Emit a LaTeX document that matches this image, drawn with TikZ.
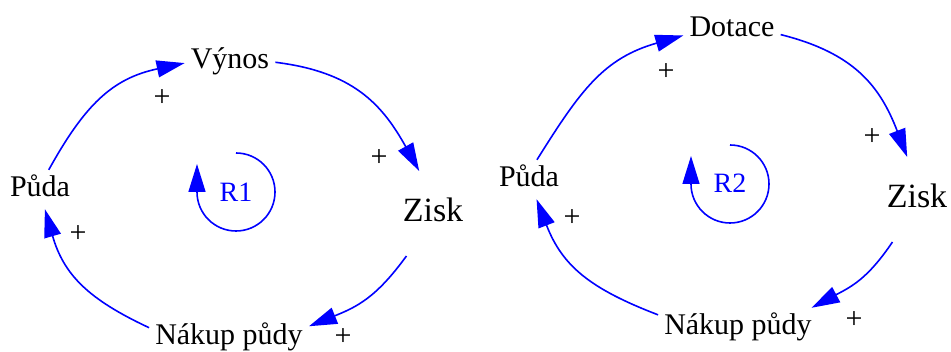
\documentclass[tikz,border=0pt]{standalone}
\usepackage{fontspec}
\setmainfont{Liberation Serif}
\usetikzlibrary{arrows.meta}
\tikzset{
  lbl/.style={font=\fontsize{30}{36}\selectfont, text height=21pt, text depth=6pt, inner sep=6pt, anchor=base},
  big/.style={font=\fontsize{34}{40}\selectfont, text height=23.8pt, text depth=6.8pt, inner xsep=6pt, inner ysep=27pt, anchor=base},
  rlbl/.style={font=\fontsize{28}{34}\selectfont, text=blue, anchor=base, inner sep=0pt},
  plus/.style={font=\fontsize{30}{36}\selectfont, inner sep=0pt, anchor=center},
  link/.style={draw=blue, line width=1.6pt, looseness=1.1, -{Triangle[length=28pt,width=17pt]}},
  rloop/.style={draw=blue, line width=1.6pt, -{Triangle[length=28pt,width=17pt]}}
}
\begin{document}
\begin{tikzpicture}[x=1pt,y=1pt]
\useasboundingbox (0,0) rectangle (951,352);
% ---- left loop ----
\node[lbl] (vynos) at (230,283) {Výnos};
\node[big] (zisk) at (433,130) {Zisk};
\node[lbl] (nakup) at (229,7) {Nákup půdy};
\node[lbl] (puda) at (40,155) {Půda};
\draw[link] (puda.66) to[out=61, in=192] (vynos.182);
\draw[link] (vynos.359) to[out=-7, in=119] (zisk.108);
\draw[link] (zisk.238) to[out=234, in=22] (nakup.8);
\draw[link] (nakup.173) to[out=155, in=-74] (puda.284);
\node[plus] (p1) at (162,254) {+};
\node[plus] (p2) at (379,194) {+};
\node[plus] (p3) at (78,118) {+};
\node[plus] (p4) at (343,15) {+};
\node[rlbl] (r1) at (236,150) {R1};
\coordinate (c1) at (236,160);
\draw[rloop] (c1) ++(0,39) arc[start angle=90, end angle=-180, radius=39] -- ++(0,28);
% ---- right loop ----
\node[lbl] (dotace) at (732,315) {Dotace};
\node[big] (zisk2) at (917,144) {Zisk};
\node[lbl] (nakup2) at (738,17) {Nákup půdy};
\node[lbl] (puda2) at (529,165) {Půda};
\draw[link] (puda2.68) to[out=58, in=196] (dotace.187);
\draw[link] (dotace.354) to[out=-14, in=111] (zisk2.103);
\draw[link] (zisk2.240) to[out=236, in=28] (nakup2.15);
\draw[link] (nakup2.171) to[out=159, in=-69] (puda2.291);
\node[plus] (q1) at (666,280) {+};
\node[plus] (q2) at (872,215) {+};
\node[plus] (q3) at (572,134) {+};
\node[plus] (q4) at (854,32) {+};
\node[rlbl] (r2) at (730,159) {R2};
\coordinate (c2) at (730,168);
\draw[rloop] (c2) ++(0,39) arc[start angle=90, end angle=-180, radius=39] -- ++(0,28);
\end{tikzpicture}
\end{document}
